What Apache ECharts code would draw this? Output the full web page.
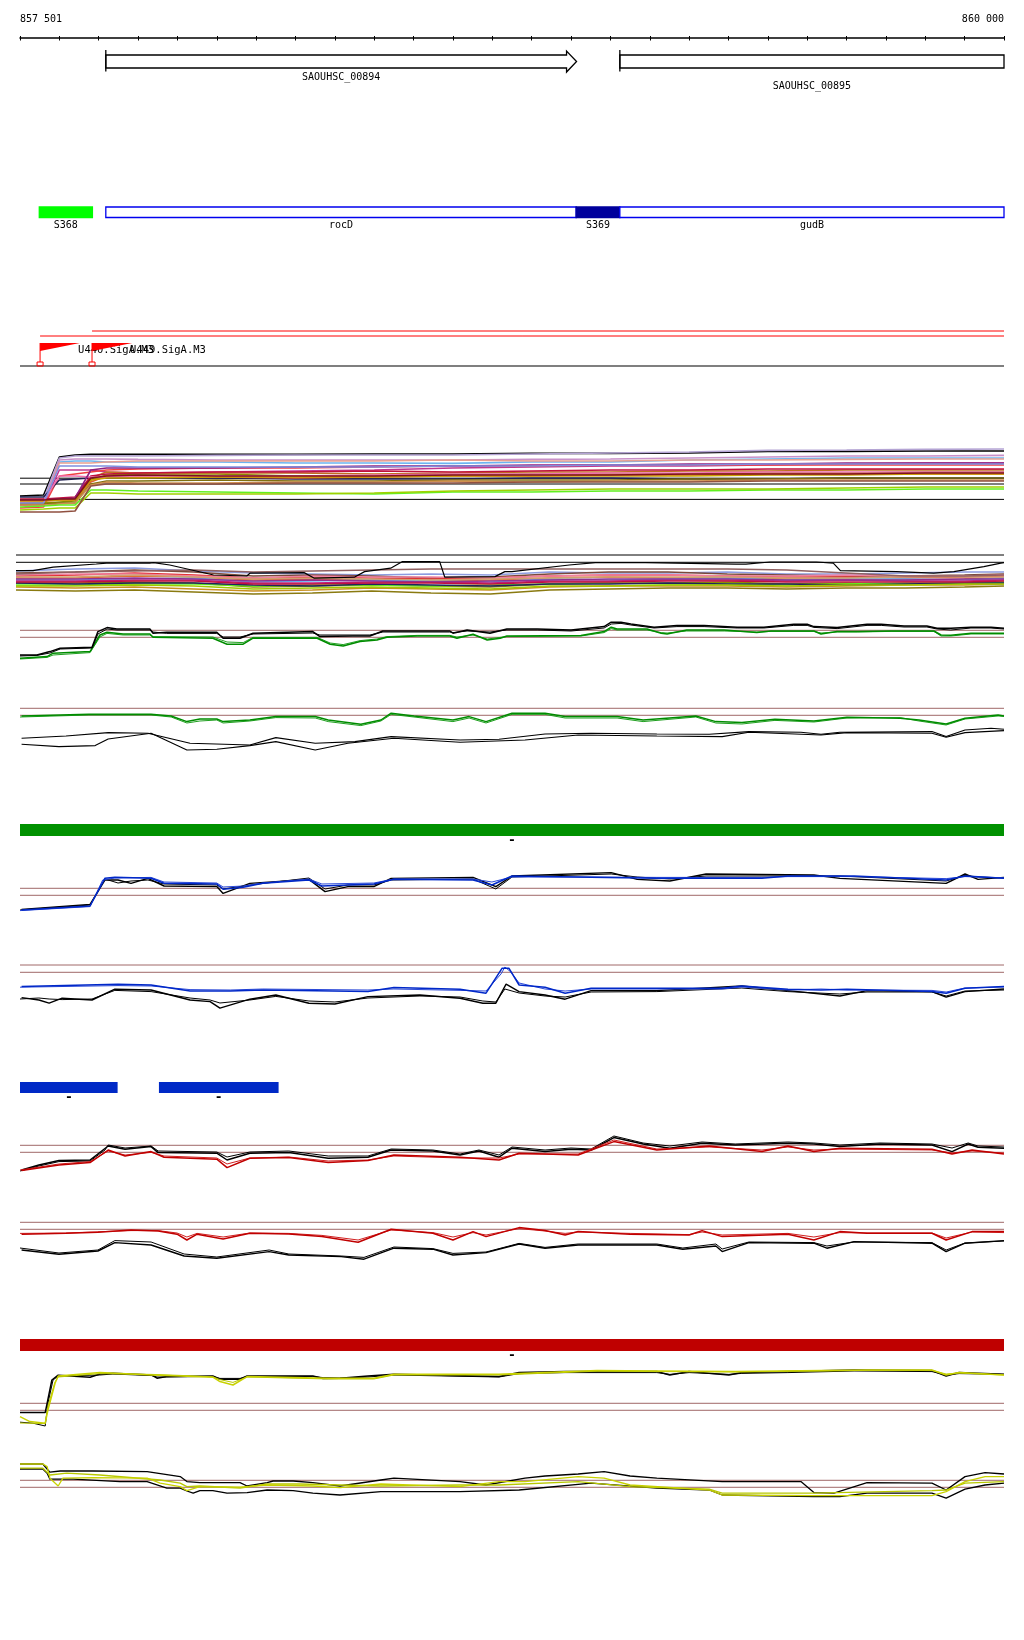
<!DOCTYPE html>
<html>
<head>
<meta charset="utf-8">
<script src="https://cdn.jsdelivr.net/npm/echarts@6.0.0/dist/echarts.min.js"></script>
<style>html,body{margin:0;background:#fff}#chart{width:1024px;height:1640px}</style>
</head>
<body>
<div id="chart"></div>
<script>
// region 857 501 - 860 000, positions are bp offsets from 857 500
var SPAN = 2500;
var mono = "'DejaVu Sans Mono', monospace";
var rulerLabels = ['857 501', '860 000'];

var geneNames = ['SAOUHSC_00894', 'SAOUHSC_00895'];
var geneStart = [218, 1524];
var geneEnd = [1414, 2640];

var annotNames = ['S368', 'rocD', 'S369', 'gudB'];
var annotStart = [49, 218, 1413, 1524];
var annotEnd = [184, 1413, 1524, 2500];
var annotKind = ['srnaA', 'cds', 'srnaB', 'cds'];

var promNames = ['U440.SigA.M3', 'U449.SigA.M3'];
var promStart = [51, 183];
var promEnd = [152, 285];

var greenBlocks = [[0, 2500]];
var blueBlocks = [[0, 248], [353, 657]];
var redBlocks = [[0, 2500]];

// track 1 : many conditions
var t1Pos = [0, 60, 100, 140, 180, 220, 300, 500, 700, 900, 1100, 1300, 1500, 1700, 1900, 2100, 2300, 2500];
var t1Guides = [18.4, 15.5, 7.8];
var t1Lines = [
  ['#000000', [9.5, 10, 29, 30, 30.3, 30.3, 30.3, 30.3, 30.3, 30.5, 30.5, 30.8, 30.8, 31, 31.8, 31.8, 32, 32]],
  ['#b4a4d4', [7.5, 8, 28.5, 29.5, 29.5, 29.5, 29.5, 29.8, 30, 30, 30, 30.5, 31, 31.5, 32.3, 32.5, 32.8, 33]],
  ['#6cb4f0', [6, 6.5, 26.5, 27, 27, 26.5, 26.5, 26.5, 26, 26, 25.8, 26.5, 26.5, 27.5, 28, 28.5, 28.5, 28.5]],
  ['#c890c8', [5.5, 6, 27.5, 28, 28, 28, 27.8, 27.5, 27.5, 27.5, 27.5, 27.8, 28, 28.5, 29, 29.5, 29.5, 29.8]],
  ['#e8a090', [5, 5.5, 26, 26, 26, 26.5, 27, 27, 27, 27, 27.5, 27, 27, 27.5, 27.5, 27.8, 28, 28]],
  ['#c03890', [5, 5, 22.5, 22.5, 22.5, 21.5, 21, 21.5, 22, 22.5, 23.5, 24, 24.5, 24.5, 25, 25.5, 26, 26]],
  ['#f04040', [3.5, 4, 19.5, 20.5, 21.5, 22.5, 23, 23.5, 23.5, 24, 24.5, 24.5, 25, 25, 25, 25, 25, 25]],
  ['#202050', [9, 9, 17.5, 18, 18.5, 18.5, 18.5, 18.5, 18, 18, 18, 18.5, 18.5, 18, 18, 18.5, 18.5, 18.5]],
  ['#8c8c00', [6, 6, 6.5, 7, 17.5, 20, 20.5, 20.5, 19.5, 19.5, 20, 20.5, 20.5, 20.5, 21, 21, 21.5, 21.5]],
  ['#c07020', [7.5, 7.5, 8, 8.5, 18.5, 21.5, 21, 21, 21, 20.5, 21, 21.5, 21.5, 22, 22, 22.5, 22.5, 22.5]],
  ['#e06030', [6.5, 7, 7.5, 7.5, 16.5, 19.5, 19, 19, 18.5, 19, 19.5, 19.5, 20, 20, 20.5, 20.5, 20.5, 20.5]],
  ['#c0103c', [8, 8, 8.5, 9, 19.5, 20.5, 21, 21.5, 21.5, 22, 21.5, 22, 22.5, 22.5, 23, 23, 23, 23]],
  ['#807010', [5.5, 5.5, 6, 6, 15.5, 17, 17, 17.5, 17, 17, 17.5, 17.5, 17.5, 18, 18, 18.5, 18.5, 18.5]],
  ['#d09050', [5, 5, 5.5, 6, 15, 16.5, 16, 16, 16.5, 16.5, 17, 16.5, 17, 17, 17.5, 17.5, 17.5, 17.5]],
  ['#60f020', [4, 4.5, 5, 5, 12.5, 12.5, 12, 11.5, 11, 10.5, 11.5, 11.5, 12, 12, 12.5, 12.5, 13, 13]],
  ['#a0d000', [2.5, 3, 3.5, 3.5, 11, 11, 10.5, 10.5, 10.5, 11, 12, 12.5, 13, 13, 13, 13.5, 14, 14]],
  ['#905040', [1.5, 1.5, 1.5, 2, 14.5, 15.5, 15.5, 15.5, 16, 16, 16, 16.5, 16.5, 16.5, 17, 17, 17, 17]],
  ['#f070b0', [6.5, 7, 19.5, 19.5, 19, 19, 19.5, 19.5, 19.5, 20, 20.5, 20.5, 21, 21, 21.5, 21.5, 21.5, 21.5]],
  ['#902080', [7.5, 7.5, 8, 8.5, 22.5, 23.5, 23.5, 23.5, 24, 24.5, 24.5, 25, 25, 25.5, 25.5, 26, 26, 26]],
  ['#c8a000', [7, 7, 7.5, 7.5, 17.5, 18.5, 18.5, 19, 19, 19, 19.5, 19.5, 19.5, 19.5, 20, 20, 20.5, 20.5]],
  ['#8090e0', [6, 6, 24.5, 24.5, 24.5, 24.5, 24, 24, 24, 24, 24.5, 24.5, 25, 25, 25.5, 25.5, 25.5, 25.5]],
  ['#801020', [7.5, 7.5, 8, 8, 18.5, 19.5, 20, 19.5, 19.5, 19.5, 20, 20, 20, 20.5, 20.5, 20.5, 21, 21]]
];

// track 2 : many conditions, second set
var t2Pos = [0, 150, 300, 450, 600, 750, 900, 1050, 1200, 1350, 1500, 1650, 1800, 1950, 2100, 2250, 2400, 2500];
var t2Guides = [22.5, 18.85];
var t2Lines = [
  ['#8c9be0', [14.5, 15.5, 16, 14.5, 13.5, 13, 12.5, 13, 12.5, 14, 13.5, 13.5, 14, 13, 13, 13.5, 14, 14]],
  ['#7a4a3a', [13.5, 14, 15, 14, 12, 12.5, 12, 11, 11.5, 13, 14, 14, 13, 12.5, 12, 12, 12.5, 13]],
  ['#e03030', [12, 12.5, 13.5, 12.5, 11, 11.5, 11, 10.5, 11, 12, 12.5, 12.5, 12, 11.5, 11.5, 11, 11.5, 12]],
  ['#e07030', [11, 11, 12, 11.5, 10, 10.5, 10, 9.5, 10, 11, 11.5, 11, 11, 10.5, 10.5, 10, 10.5, 11]],
  ['#60b0f0', [10, 10, 10.5, 11, 9, 9.5, 10, 9.5, 9, 10.5, 10, 10.5, 11, 10, 10.5, 10.5, 10, 11]],
  ['#c02080', [9.5, 9.5, 10, 10, 8.5, 8.5, 9, 9, 8.5, 9.5, 9.5, 10, 10, 9.5, 10, 9.5, 9.5, 10]],
  ['#8c8c00', [8.5, 8.5, 9, 8.5, 6.5, 7, 7.5, 7, 6.5, 8, 8.5, 8.5, 9, 8, 8.5, 8, 8.5, 9]],
  ['#60f020', [7.5, 7.5, 8, 8, 7, 7.5, 7.5, 7, 7.5, 8, 8.5, 8, 8, 7.5, 8, 8.5, 8.5, 9]],
  ['#c89020', [6.5, 6, 6.5, 5.5, 4.5, 5, 6, 5.5, 5, 6.5, 7, 7, 7, 6.5, 7, 7.5, 7.5, 8]],
  ['#8a7a10', [5, 4.5, 5, 4, 3, 3.5, 4.5, 3.5, 3, 5, 5.5, 6, 6, 5.5, 6, 6, 6.5, 7]],
  ['#202060', [8.5, 8, 8.5, 8.5, 7.5, 7, 8, 7.5, 7, 8, 8, 8.5, 8, 8, 7.5, 8, 8.5, 8.5]],
  ['#f080a0', [12.5, 13, 13, 12, 11, 12, 11.5, 11.5, 11, 12, 12.5, 12.5, 12, 12, 12.5, 12, 12, 12.5]],
  ['#d0a070', [11.5, 11.5, 12.5, 11.5, 10.5, 11, 10.5, 10, 10.5, 11, 11.5, 11.5, 11.5, 11, 11, 11.5, 11.5, 11.5]],
  ['#903090', [10.5, 10.5, 11, 10.5, 9.5, 10, 9.5, 9, 9.5, 10, 10.5, 10.5, 10.5, 10, 10, 10, 10.5, 10.5]],
  ['#a0c800', [7, 7, 7.5, 7, 5.5, 6, 6.5, 6, 5.5, 7, 7, 7.5, 7.5, 7, 7.5, 7.5, 8, 8]],
  ['#906060', [13, 14, 14.5, 15, 14, 14.5, 15, 15.5, 15.5, 15.5, 15.5, 15.5, 15.5, 15, 13.5, 12, 12, 12.5]],
  ['#c01040', [9, 9, 9.5, 9.5, 8, 8, 8.5, 8.5, 8, 9, 9, 9.5, 9.5, 9, 9, 9, 9, 9.5]]
];
var t2Black = [[0,14.7],[43,14.7],[94,16.4],[203,18],[229,18.4],[338,18.4],[348,18.7],[389,17.5],[500,12.5],[584,12],[592,13.4],[729,13.7],[755,10.9],[856,11.4],[882,14.2],[948,15.9],[978,19.2],[1072,19.2],[1085,11.4],[1212,11.7],[1237,14.2],[1255,14.2],[1400,17.5],[1466,18.7],[1593,18.7],[1669,18.4],[1822,17.9],[1847,17.9],[1908,19],[2025,19],[2068,18.4],[2086,14.7],[2228,14.2],[2322,13.4],[2373,14.2],[2449,16.7],[2492,18.4],[2500,18.7]];

// track 3 : black / green
var t3Guides = [17.35, 13.85];
var t3BlackA = [[0,5],[43,5],[76,6.7],[102,8.4],[183,8.9],[198,16.7],[221,18.7],[246,18],[330,18],[338,15.9],[373,16.4],[500,16.4],[516,13.4],[559,13.4],[592,15.9],[744,16.7],[762,14.2],[846,14.5],[889,14.5],[922,17],[1092,17],[1100,15.9],[1136,17.5],[1194,15.9],[1237,18],[1314,18],[1400,17.5],[1484,19.2],[1502,21.4],[1527,21.4],[1552,20.5],[1611,18.9],[1669,19.7],[1738,19.7],[1822,18.9],[1890,18.9],[1966,20.4],[2000,20.4],[2017,19.2],[2076,18.7],[2152,20.4],[2188,20.4],[2246,19.5],[2304,19.5],[2330,18.4],[2365,18.4],[2416,18.9],[2467,18.9],[2500,18.4]];
var t3BlackB = [[0,4.5],[43,4.8],[76,6],[102,8],[183,8.5],[198,15.5],[221,18],[246,17.5],[330,17.5],[338,16.5],[373,15.8],[500,15.8],[516,14],[559,14],[592,15.5],[744,16],[762,15],[846,15],[889,15],[922,16.5],[1092,16.5],[1100,16.2],[1136,17],[1194,16.5],[1237,17.5],[1314,17.5],[1400,17],[1484,18.5],[1502,20.5],[1527,20.8],[1552,20],[1611,18.5],[1669,19.2],[1738,19.2],[1822,18.5],[1890,18.5],[1966,19.8],[2000,19.8],[2017,18.8],[2076,18.2],[2152,19.8],[2188,19.8],[2246,19],[2304,19],[2330,18],[2365,17.5],[2416,18.5],[2467,18.5],[2500,18]];
var t3GreenA = [[0,3.4],[69,4.2],[84,5.9],[178,6.7],[203,15],[221,16.4],[262,15.5],[330,15.5],[338,13.9],[490,13.4],[526,10.4],[567,10.4],[592,13.4],[755,13.4],[788,10.4],[821,9.5],[864,11.7],[907,12.5],[932,13.9],[1009,14.5],[1092,14.5],[1110,13.4],[1151,15.4],[1187,12.5],[1220,13.4],[1237,14.5],[1425,14.7],[1484,16.7],[1502,18.9],[1517,18],[1593,18],[1629,15.9],[1644,15.5],[1694,17.5],[1789,17.5],[1872,16.2],[1908,17],[2017,17],[2035,15.5],[2076,16.7],[2127,16.7],[2213,17],[2322,17],[2340,15],[2365,14.9],[2416,15.9],[2500,15.9]];
var t3GreenB = [[0,3],[69,3.8],[84,5],[178,6.2],[203,14],[221,15.8],[262,15],[330,15],[338,14.2],[490,14],[526,11.5],[567,11.2],[592,13.8],[755,13.8],[788,11],[821,10.2],[864,12.2],[907,13],[932,14.2],[1009,14.8],[1092,14.8],[1110,14],[1151,15],[1187,13],[1220,13.8],[1237,14.2],[1425,14.5],[1484,16.2],[1502,18.2],[1517,17.5],[1593,17.5],[1629,16.2],[1644,16],[1694,17],[1789,17],[1872,16.5],[1908,16.8],[2017,16.8],[2035,16],[2076,16.5],[2127,16.5],[2213,16.8],[2322,16.8],[2340,14.5],[2365,14.5],[2416,15.5],[2500,15.5]];

// track 4 : green / black
var t4Guides = [25.85, 22.35];
var t4GreenA = [[4,22],[175,22.9],[333,22.9],[384,22],[424,19.2],[457,20.5],[500,20.5],[516,19.2],[584,20],[650,21.7],[750,21.7],[783,20],[866,17.9],[917,20],[943,23.4],[1001,22],[1100,20],[1141,21.7],[1184,19.2],[1250,23.4],[1334,23.4],[1385,21.7],[1517,21.7],[1583,20],[1717,22],[1768,19.2],[1834,18.7],[1918,20.4],[2017,19.5],[2101,21.4],[2236,20.9],[2284,20],[2353,18],[2401,20.9],[2485,22.5],[2500,22]];
var t4GreenB = [[0,21.5],[175,22.5],[333,22.5],[384,21.5],[424,18.5],[457,19.5],[500,20],[516,18.5],[584,19.5],[650,21.2],[750,21],[783,19.2],[866,17.2],[917,19.5],[943,22.8],[1001,21.5],[1100,19.2],[1141,21],[1184,18.5],[1250,22.8],[1334,22.8],[1385,21],[1517,21],[1583,19.2],[1717,21.5],[1768,18.5],[1834,18],[1918,19.8],[2017,19],[2101,21],[2236,21.2],[2284,19.5],[2353,17.5],[2401,20.5],[2485,22],[2500,21.8]];
var t4BlackA = [[4,10.9],[117,12],[224,13.7],[325,13.4],[432,8.4],[584,7.5],[650,11.2],[750,8.4],[851,9.2],[943,11.7],[1118,10],[1217,10.4],[1334,13],[1451,13.4],[1618,13],[1751,12.9],[1852,14.2],[1984,13.9],[2035,12.9],[2083,13.9],[2317,14.2],[2353,11.7],[2401,15],[2467,15.9],[2500,15.4]];
var t4BlackB = [[4,7.9],[99,6.7],[191,7.2],[224,10.5],[333,13.4],[424,5],[500,5.4],[584,7.2],[650,9.2],[750,5],[833,8.4],[950,10.9],[1118,8.9],[1283,10],[1418,12.5],[1618,12],[1784,11.7],[1852,13.9],[2035,12.5],[2101,13.7],[2317,13.4],[2353,11.4],[2401,13.7],[2500,14.7]];

// track 5 : blue / black
var t5Guides = [13.35, 9.85];
var t5BlueA = [[4,2.5],[178,4.5],[216,18.4],[241,18.9],[333,18.4],[366,15.9],[500,15.5],[516,12.9],[567,13.9],[617,15.9],[734,17.5],[767,14.5],[899,15.5],[950,17.9],[1151,17.5],[1199,15],[1250,19.5],[1451,18.9],[1618,18.4],[1885,18.4],[1951,19.5],[2119,19.5],[2353,17.5],[2401,19.5],[2500,18.4]];
var t5BlueB = [[0,2.2],[178,4.2],[210,17.5],[241,18.5],[333,18.8],[366,16.5],[500,16],[516,14],[567,14.5],[617,16],[734,18],[767,15.5],[899,16],[950,18],[1151,18],[1199,16.5],[1250,19],[1451,19],[1618,18.8],[1885,18.8],[1951,19.2],[2119,19.2],[2353,18.2],[2401,19.2],[2500,18.6]];
var t5BlackA = [[4,2.8],[178,5.3],[216,17.5],[249,17.5],[282,15.8],[325,18.3],[366,14.5],[500,14.2],[516,10.8],[584,15.8],[734,17.8],[775,11.7],[833,14.2],[899,14.2],[943,18.3],[1151,18.8],[1209,14.2],[1250,19.5],[1502,21.2],[1568,17.8],[1651,17],[1743,20.5],[2017,20],[2083,18.3],[2353,15.8],[2401,20.5],[2434,17.8],[2500,18.8]];
var t5BlackB = [[0,2.5],[178,5],[216,18],[249,16],[282,17],[325,17.5],[366,15.5],[500,15],[516,13],[584,15],[734,18.5],[775,13],[833,15],[899,15],[943,17.5],[1151,18],[1209,13],[1250,19],[1502,20.5],[1568,19],[1651,18],[1743,19.5],[2017,19.5],[2083,19.5],[2353,17],[2401,19.8],[2434,19],[2500,18.5]];

// track 6 : blue / black
var t6Guides = [22.5, 18.85];
var t6BlueA = [[4,11.7],[249,12.9],[333,12.5],[432,9.5],[534,9.5],[617,10],[884,9.2],[950,11.2],[1118,10.4],[1184,8.4],[1225,20.9],[1242,20.9],[1268,12.5],[1334,11.4],[1385,8.4],[1451,10.9],[1784,10.9],[1834,12],[1951,10.4],[2035,10],[2101,10.4],[2317,9.2],[2353,8.4],[2401,10.9],[2500,11.7]];
var t6BlueB = [[0,11.4],[249,12.2],[333,12],[432,10.2],[534,10],[617,10.5],[884,10],[950,10.5],[1118,9.8],[1184,9.5],[1222,18],[1232,21.5],[1247,19],[1268,13.5],[1334,10.5],[1385,9.5],[1451,10.5],[1784,10.5],[1834,11.5],[1951,10],[2035,10.5],[2101,10],[2317,9.8],[2353,9],[2401,11],[2500,11.5]];
var t6BlackA = [[4,6.2],[48,5],[74,3.4],[107,5.9],[183,5],[241,10.4],[333,10],[432,5],[483,4.2],[508,0.9],[584,5.4],[650,7.5],[734,3.4],[800,3],[884,6.7],[1016,7.5],[1118,5.9],[1176,3.4],[1209,3.4],[1235,12.9],[1268,9.2],[1334,7.5],[1385,5.4],[1451,9.7],[1618,9.7],[1834,12],[1951,9.7],[2083,7],[2152,9.7],[2317,9.2],[2353,6.4],[2401,9.2],[2500,10.5]];
var t6BlackB = [[0,5.5],[48,6],[74,5.5],[107,5.2],[183,5.5],[241,9.8],[333,9.2],[432,6],[483,5],[508,3.5],[584,5],[650,6.8],[734,4.5],[800,4],[884,6],[1016,7],[1118,6.5],[1176,4.5],[1209,4],[1232,10.5],[1268,8.5],[1334,7],[1385,6.5],[1451,9],[1618,9.2],[1834,11],[1951,9.2],[2083,8],[2152,9],[2317,9],[2353,7],[2401,9.5],[2500,10]];

// track 7 : black / red
var t7Guides = [17.35, 13.85];
var t7BlackA = [[4,5],[48,7.5],[99,9.7],[178,10],[224,17],[267,15.4],[333,16.7],[351,13.7],[500,13.4],[526,10],[584,13.4],[683,13.7],[783,10.9],[884,11.4],[943,15],[1049,14.5],[1118,12.5],[1166,14.5],[1217,11.4],[1250,15.9],[1334,14.2],[1400,15.4],[1451,15],[1509,21.2],[1583,18],[1651,15.9],[1733,18.4],[1817,17.5],[1951,18.4],[2017,18],[2083,16.7],[2185,18],[2317,17.5],[2368,14.2],[2409,18],[2434,16.4],[2500,15.9]];
var t7BlackB = [[0,4.5],[48,7],[99,9.2],[178,9.5],[216,15],[224,17.5],[267,16],[333,17],[351,14.5],[500,14],[526,11.5],[584,14],[683,14.5],[783,12],[884,12],[943,15.5],[1049,15],[1118,13],[1166,15],[1217,12.5],[1250,16.5],[1334,15],[1400,16],[1451,15.5],[1509,22],[1583,18.5],[1651,17],[1733,19],[1817,18],[1951,19],[2017,18.5],[2083,17.5],[2185,18.5],[2317,18],[2368,16],[2409,18.5],[2434,17],[2500,16.5]];
var t7RedA = [[4,4.7],[99,7.5],[178,8.7],[224,15],[267,12],[333,14.2],[366,11.4],[500,10.4],[526,6.2],[584,10.9],[683,11.2],[783,8.7],[884,9.7],[950,12.5],[1118,11.4],[1217,10],[1268,13.4],[1418,12.5],[1509,19.2],[1618,15],[1751,17],[1885,14.2],[1951,17],[2017,14.2],[2083,15.9],[2317,15.4],[2368,13],[2419,15],[2500,13]];
var t7RedB = [[0,5],[99,8],[178,9.2],[224,14.5],[267,12.5],[333,13.8],[366,12],[500,11],[526,8],[584,11],[683,11.5],[783,9.5],[884,10],[950,12],[1118,11],[1217,11],[1268,13],[1418,13],[1509,20],[1618,15.5],[1751,16.5],[1885,15],[1951,16.5],[2017,15],[2083,15.5],[2317,15],[2368,13.5],[2419,14.5],[2500,13.5]];

// track 8 : red / black
var t8Guides = [21.35, 17.85];
var t8RedA = [[4,15.4],[117,15.9],[198,16.4],[282,17.5],[351,17],[399,15.4],[424,12.5],[450,15.4],[516,13],[584,15.9],[683,15.5],[767,14.2],[859,11.4],[943,17.9],[1049,15.9],[1100,12.5],[1151,16.7],[1184,14.2],[1268,18.7],[1334,17.2],[1385,15],[1418,16.7],[1550,15.4],[1700,15],[1733,17.2],[1784,14.2],[1951,15.4],[2017,12.5],[2083,16.7],[2152,15.9],[2317,15.9],[2353,12.5],[2419,16.7],[2500,16.7]];
var t8RedB = [[0,15.8],[117,16],[198,16.6],[282,17.2],[351,17.2],[399,16],[424,14],[450,15.8],[516,14],[584,16],[683,15.8],[767,14.8],[859,12.5],[943,17.5],[1049,16.2],[1100,14],[1151,16.2],[1184,15],[1268,18.2],[1334,17],[1385,15.8],[1418,16.5],[1550,15.8],[1700,15.2],[1733,16.5],[1784,15],[1951,15.8],[2017,14],[2083,16.2],[2152,16],[2317,16],[2353,13.5],[2419,16.5],[2500,16.2]];
var t8BlackA = [[4,7.5],[99,5.4],[198,7],[241,11.2],[333,10],[417,4.5],[500,3.4],[633,6.7],[683,5],[816,4.2],[874,2.9],[950,8.4],[1049,7.9],[1100,5],[1184,6.2],[1268,10.5],[1334,8.4],[1418,10],[1618,10],[1684,7.9],[1768,9.5],[1784,6.7],[1852,11.2],[2017,10.9],[2050,8.4],[2119,11.7],[2317,10.9],[2353,6.7],[2401,10.9],[2500,12.2]];
var t8BlackB = [[0,8.5],[99,6],[198,7.5],[241,12.2],[333,11.5],[417,5.5],[500,4],[633,7.5],[683,5.5],[816,4.5],[874,3.8],[950,9],[1049,8.2],[1100,5.8],[1184,6.5],[1268,10.8],[1334,8.8],[1418,10.5],[1618,10.5],[1684,8.5],[1768,10.5],[1784,8],[1852,11.5],[2017,11.2],[2050,9.5],[2119,11.5],[2317,11.2],[2353,7.5],[2401,11],[2500,12]];

// track 9 : black / yellow
var t9Guides = [13.35, 9.85];
var t9BlackA = [[0,8.7],[64,8.7],[69,13.4],[81,25],[97,27.4],[178,26.4],[203,28],[236,28.4],[335,27.5],[348,25.9],[373,26.7],[490,27],[508,25.4],[559,25.4],[577,27],[744,27],[770,25.7],[813,25.9],[884,27],[950,27.9],[1217,26.7],[1268,28.7],[1385,29.2],[1618,29.2],[1651,27.5],[1700,29.2],[1801,27.5],[1834,28.7],[1951,29.2],[2119,30],[2317,29.7],[2353,27],[2386,28.7],[2500,27.9]];
var t9BlackB = [[0,3.9],[33,3.4],[64,2],[71,13.4],[84,25],[97,27],[203,27.5],[236,28],[335,27.2],[348,26.5],[373,26.5],[490,26.8],[508,25.8],[559,25.8],[577,26.8],[744,26.8],[770,26.2],[813,26],[884,26.5],[950,27.5],[1217,26.5],[1268,28.2],[1385,28.7],[1618,28.7],[1651,27.8],[1700,28.7],[1801,27.8],[1834,28.3],[1951,28.7],[2119,29.5],[2317,29.2],[2353,27.5],[2386,28.2],[2500,27.8]];
var t9YellowA = [[0,6.7],[25,4.2],[64,3.4],[71,10],[89,23.4],[97,27],[203,28.7],[335,27.5],[407,27],[490,26.4],[508,24.2],[541,22.5],[577,26.7],[783,25.9],[899,25.9],[950,27.9],[1217,27.9],[1466,29.7],[1618,29.5],[1817,29.2],[2152,30],[2317,30],[2353,27.5],[2386,28.7],[2500,27.5]];
var t9YellowB = [[0,3.5],[64,3.2],[71,12],[89,24],[97,26.5],[203,28.2],[335,27.8],[407,27.3],[490,26.6],[508,25.2],[541,23.8],[577,26.5],[783,25.5],[899,25.5],[950,27.5],[1217,27.5],[1466,29.4],[1618,29.2],[1817,29],[2152,29.8],[2317,29.8],[2353,28],[2386,28.5],[2500,27.5]];

// track 10 : black / yellow
var t10Guides = [12.35, 8.85];
var t10BlackA = [[0,20.5],[58,20.5],[71,17.5],[76,16.4],[102,17],[185,17],[323,16.7],[407,14.2],[424,11.7],[457,11.2],[559,11.2],[577,9.5],[628,11.2],[643,12],[694,12],[744,11.2],[813,9.5],[917,12.5],[950,13.4],[1118,11.7],[1184,10],[1283,13.4],[1334,14.5],[1418,15.5],[1484,16.7],[1550,14.5],[1618,13.4],[1784,11.7],[1984,11.7],[2017,6.2],[2068,5.9],[2152,11.2],[2317,10.9],[2353,7.5],[2401,14.2],[2452,16.2],[2500,15.5]];
var t10BlackB = [[0,18],[58,18],[69,15.9],[76,12.9],[135,12.9],[254,11.7],[323,11.7],[373,8.4],[407,8.4],[424,7],[440,5.9],[457,7.2],[490,7.2],[526,5.9],[577,6.2],[628,7.5],[694,7.2],[744,5.9],[813,5],[917,6.7],[1118,6.7],[1268,7.5],[1451,10.9],[1618,8.4],[1751,7.5],[1784,5],[2017,4.2],[2083,4.2],[2152,5.9],[2317,5.9],[2353,3.4],[2401,7.9],[2452,10],[2500,10.9]];
var t10YellowA = [[0,20.5],[58,20.5],[69,19.2],[76,13.4],[97,9.5],[102,9.5],[109,13.4],[185,13.7],[323,13.4],[356,10.9],[407,9.2],[424,7.2],[457,9.2],[559,8.9],[628,10],[744,9.5],[813,8.7],[917,10.5],[1118,9.2],[1217,11.7],[1283,11.7],[1418,14.2],[1484,13.4],[1550,10],[1751,7.5],[1784,5],[2017,4.7],[2317,4.7],[2353,6.7],[2401,11.7],[2452,14.2],[2500,14.2]];
var t10YellowB = [[0,18.4],[58,18.4],[76,15],[119,15.9],[203,15],[356,12.5],[407,10.9],[424,9.2],[457,9.5],[559,8.5],[628,10.5],[711,10.5],[813,10],[917,9.5],[1118,10],[1217,10],[1418,11.7],[1550,9.2],[1751,7.9],[1784,5.9],[2017,5.9],[2317,7.2],[2353,7.5],[2401,10.9],[2500,11.7]];

// ---------------------------------------------------------------
var annotStyle = {
  srnaA: { fill: '#00ff00', stroke: '#00ff00' },
  srnaB: { fill: '#00009c', stroke: '#00009c' },
  cds: { fill: '#ffffff', stroke: '#0000ee' }
};
var guideColor = '#a06868';

var grids = [], xAxes = [], yAxes = [], series = [];

function addGrid(top, height, yMax, left) {
  var gi = grids.length;
  grids.push({ left: left == null ? 20 : left, right: 20, top: top, height: height });
  xAxes.push({ gridIndex: gi, type: 'value', min: 0, max: SPAN, show: false });
  yAxes.push({ gridIndex: gi, type: 'value', min: 0, max: yMax, show: false });
  return { x: xAxes.length - 1, y: yAxes.length - 1 };
}

function line(ax, data, color, width, z) {
  series.push({
    type: 'line', xAxisIndex: ax.x, yAxisIndex: ax.y, data: data,
    symbol: 'none', silent: true, clip: false, z: z || 2,
    lineStyle: { color: color, width: width || 1 }
  });
}

function guides(ax, vals, color) {
  vals.forEach(function (v) { line(ax, [[0, v], [SPAN, v]], color || guideColor, 1, 1); });
}

function zip(pos, vals) {
  return pos.map(function (p, i) { return [p, vals[i]]; });
}

function blocks(ax, list, color) {
  series.push({
    type: 'custom', xAxisIndex: ax.x, yAxisIndex: ax.y, clip: false, silent: true,
    data: list.map(function (b) { return [b[0], b[1]]; }),
    renderItem: function (params, api) {
      var a = api.coord([api.value(0), 1]), b = api.coord([api.value(1), 0]);
      return { type: 'group', children: [
        { type: 'rect', shape: { x: a[0], y: a[1], width: b[0] - a[0], height: b[1] - a[1] }, style: { fill: color } },
        { type: 'text', style: { text: '-', x: (a[0] + b[0]) / 2, y: b[1] + 5, align: 'center', verticalAlign: 'middle', fontSize: 13, fontWeight: 'bold', fontFamily: mono, fill: '#000' } }
      ] };
    }
  });
}

// ruler
var gRuler = grids.length;
grids.push({ left: 20, right: 20, top: 36, height: 2 });
xAxes.push({ gridIndex: gRuler, type: 'value', min: 0, max: SPAN, interval: 100, position: 'bottom',
  axisLine: { show: true, onZero: false, lineStyle: { color: '#000', width: 1.5 } },
  axisTick: { show: true, length: 2.5, lineStyle: { color: '#000' } },
  axisLabel: { show: false }, splitLine: { show: false } });
xAxes.push({ gridIndex: gRuler, type: 'value', min: 0, max: SPAN, interval: 100, position: 'top',
  axisLine: { show: false, onZero: false },
  axisTick: { show: true, inside: true, length: 2, lineStyle: { color: '#000' } },
  axisLabel: { show: false }, splitLine: { show: false } });
yAxes.push({ gridIndex: gRuler, type: 'value', min: 0, max: 1, show: false });

// genes
var axGene = addGrid(55, 13, 1);
series.push({
  type: 'custom', xAxisIndex: axGene.x, yAxisIndex: axGene.y, clip: false, silent: true,
  data: geneNames.map(function (n, i) { return [geneStart[i], geneEnd[i], i]; }),
  renderItem: function (params, api) {
    var i = api.value(2), e = api.value(1);
    var cut = e > SPAN;
    var a = api.coord([api.value(0), 1]), b = api.coord([Math.min(e, SPAN), 0]);
    var top = a[1], bot = b[1], mid = (top + bot) / 2, x0 = a[0], x1 = b[0];
    var pts = cut ? [[x0, top], [x1, top], [x1, bot], [x0, bot]]
                  : [[x0, top], [x1 - 10, top], [x1 - 10, top - 4], [x1, mid], [x1 - 10, bot + 4], [x1 - 10, bot], [x0, bot]];
    return { type: 'group', children: [
      { type: 'polygon', shape: { points: pts }, style: { fill: '#fff', stroke: '#000', lineWidth: 1.3 } },
      { type: 'line', shape: { x1: x0, y1: top - 5, x2: x0, y2: bot + 3.5 }, style: { stroke: '#000', lineWidth: 1.3 } },
      { type: 'text', style: { text: geneNames[i], x: (x0 + x1) / 2, y: bot + 9.5 + 8.5 * (i % 2), align: 'center', verticalAlign: 'middle', fontSize: 10, fontFamily: mono, fill: '#000' } }
    ] };
  }
});

// annotation
var axAnnot = addGrid(207, 10.5, 1);
series.push({
  type: 'custom', xAxisIndex: axAnnot.x, yAxisIndex: axAnnot.y, clip: false, silent: true,
  data: annotNames.map(function (n, i) { return [annotStart[i], annotEnd[i], i]; }),
  renderItem: function (params, api) {
    var i = api.value(2), st = annotStyle[annotKind[i]];
    var a = api.coord([api.value(0), 1]), b = api.coord([api.value(1), 0]);
    return { type: 'group', children: [
      { type: 'rect', shape: { x: a[0], y: a[1], width: b[0] - a[0], height: b[1] - a[1] }, style: { fill: st.fill, stroke: st.stroke, lineWidth: 1.3 } },
      { type: 'text', style: { text: annotNames[i], x: (a[0] + b[0]) / 2, y: b[1] + 7.5, align: 'center', verticalAlign: 'middle', fontSize: 10, fontFamily: mono, fill: '#000' } }
    ] };
  }
});

// promoters
var axProm = addGrid(328, 38, 1);
line(axProm, [[0, 0], [SPAN, 0]], '#000', 1.2, 1);
series.push({
  type: 'custom', xAxisIndex: axProm.x, yAxisIndex: axProm.y, clip: false, silent: true,
  data: promNames.map(function (n, i) { return [promStart[i], promEnd[i], i]; }),
  renderItem: function (params, api) {
    var i = api.value(2);
    var s = api.coord([api.value(0), 0]), e = api.coord([api.value(1), 0]), r = api.coord([SPAN, 0]);
    var b = s[1], ty = b - 30 - 5 * i;
    return { type: 'group', children: [
      { type: 'line', shape: { x1: s[0], y1: ty, x2: r[0], y2: ty }, style: { stroke: '#ff0000', lineWidth: 1 } },
      { type: 'polygon', shape: { points: [[s[0], b - 23], [e[0], b - 23], [s[0], b - 15]] }, style: { fill: '#ff0000' } },
      { type: 'line', shape: { x1: s[0], y1: b - 23, x2: s[0], y2: b - 4 }, style: { stroke: '#ff0000', lineWidth: 1 } },
      { type: 'rect', shape: { x: s[0] - 3, y: b - 4, width: 6, height: 4 }, style: { fill: 'none', stroke: '#ff0000', lineWidth: 1 } },
      { type: 'text', style: { text: promNames[i], x: s[0] + 38, y: b - 16, align: 'left', verticalAlign: 'middle', fontSize: 10.5, fontFamily: mono, fill: '#000' } }
    ] };
  }
});

// track 1
var ax1 = addGrid(445, 70, 35);
t1Lines.forEach(function (l) { line(ax1, zip(t1Pos, l[1]), l[0], 1.6); });
guides(ax1, t1Guides, '#000');

// track 2
var ax2 = addGrid(550, 50, 25, 16);
t2Lines.forEach(function (l) { line(ax2, zip(t2Pos, l[1]), l[0], 1.6); });
guides(ax2, t2Guides, '#000');
line(ax2, t2Black, '#000', 1.2, 3);

// track 3
var ax3 = addGrid(615, 50, 25);
guides(ax3, t3Guides);
line(ax3, t3GreenB, '#20a020', 1);
line(ax3, t3GreenA, '#008c00', 1.5);
line(ax3, t3BlackB, '#000', 1);
line(ax3, t3BlackA, '#000', 1.5);

// track 4
var ax4 = addGrid(700, 60, 30);
guides(ax4, t4Guides);
line(ax4, t4GreenB, '#20a020', 1);
line(ax4, t4GreenA, '#008c00', 1.5);
line(ax4, t4BlackB, '#000', 1.1);
line(ax4, t4BlackA, '#000', 1.1);

blocks(addGrid(824, 12, 1), greenBlocks, '#009100');

// track 5
var ax5 = addGrid(865, 50, 25);
guides(ax5, t5Guides);
line(ax5, t5BlackB, '#000', 1);
line(ax5, t5BlackA, '#000', 1.4);
line(ax5, t5BlueB, '#2a48d8', 1);
line(ax5, t5BlueA, '#0028c8', 1.5);

// track 6
var ax6 = addGrid(955, 55, 27.5);
guides(ax6, t6Guides);
line(ax6, t6BlackB, '#000', 1);
line(ax6, t6BlackA, '#000', 1.4);
line(ax6, t6BlueB, '#2a48d8', 1);
line(ax6, t6BlueA, '#0028c8', 1.5);

blocks(addGrid(1082, 11, 1), blueBlocks, '#0029c6');

// track 7
var ax7 = addGrid(1130, 50, 25);
guides(ax7, t7Guides);
line(ax7, t7BlackB, '#000', 1);
line(ax7, t7BlackA, '#000', 1.5);
line(ax7, t7RedB, '#d02020', 1);
line(ax7, t7RedA, '#c00000', 1.5);

// track 8
var ax8 = addGrid(1215, 50, 25);
guides(ax8, t8Guides);
line(ax8, t8RedB, '#d02020', 1);
line(ax8, t8RedA, '#c00000', 1.5);
line(ax8, t8BlackB, '#000', 1);
line(ax8, t8BlackA, '#000', 1.4);

blocks(addGrid(1339, 12, 1), redBlocks, '#bf0000');

// track 9
var ax9 = addGrid(1360, 70, 35);
guides(ax9, t9Guides);
line(ax9, t9BlackB, '#000', 1);
line(ax9, t9BlackA, '#000', 1.5);
line(ax9, t9YellowB, '#b8c800', 1);
line(ax9, t9YellowA, '#c8d200', 1.5);

// track 10
var ax10 = addGrid(1450, 55, 27.5);
guides(ax10, t10Guides);
line(ax10, t10BlackB, '#000', 1.3);
line(ax10, t10BlackA, '#000', 1.3);
line(ax10, t10YellowB, '#b8c800', 1.3);
line(ax10, t10YellowA, '#c8d200', 1.3);

var chart = echarts.init(document.getElementById('chart'));
chart.setOption({
  animation: false,
  backgroundColor: '#fff',
  grid: grids,
  xAxis: xAxes,
  yAxis: yAxes,
  series: series,
  graphic: [
    { type: 'text', left: 20, top: 14, style: { text: rulerLabels[0], fontSize: 10, fontFamily: mono, fill: '#000' } },
    { type: 'text', right: 20, top: 14, style: { text: rulerLabels[1], fontSize: 10, fontFamily: mono, fill: '#000' } }
  ]
});
</script>
</body>
</html>
